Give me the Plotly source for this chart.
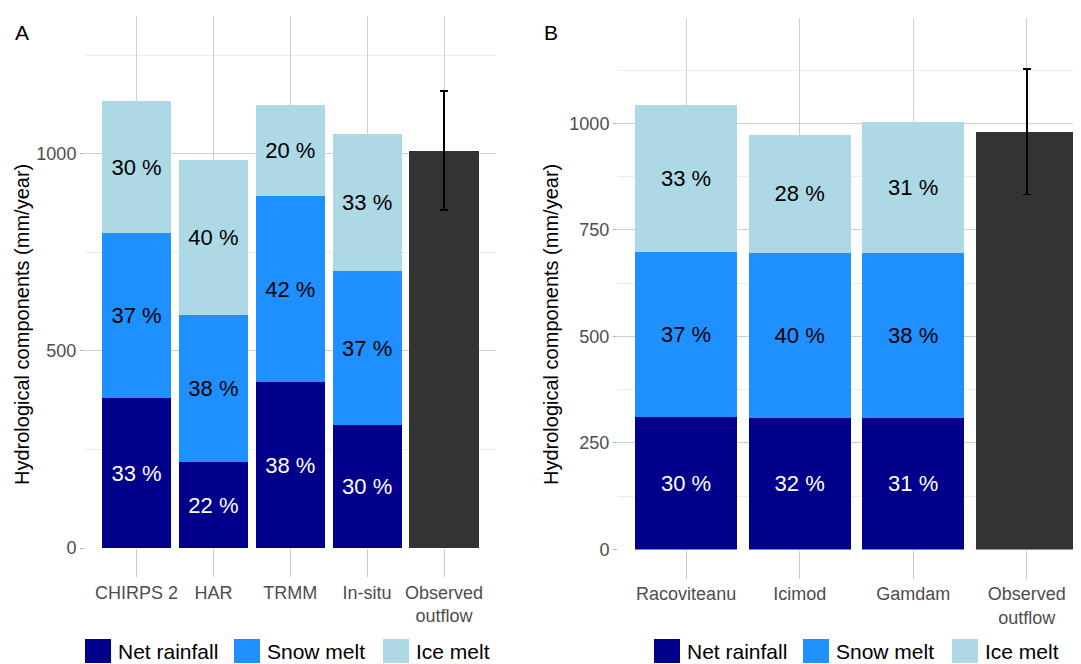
import plotly.graph_objects as go

# ---------------- data ----------------
cats_a = ["CHIRPS 2", "HAR", "TRMM", "In-situ"]
net_a = [380, 218, 421, 312]
snow_a = [419, 373, 472, 391]
ice_a = [335, 394, 231, 348]
pct_net_a = ["33 %", "22 %", "38 %", "30 %"]
pct_snow_a = ["37 %", "38 %", "42 %", "37 %"]
pct_ice_a = ["30 %", "40 %", "20 %", "33 %"]
obs_a = [1008]
obs_err_a = [151]

cats_b = ["Racoviteanu", "Icimod", "Gamdam"]
net_b = [312, 309, 309]
snow_b = [386, 387, 387]
ice_b = [345, 277, 307]
pct_net_b = ["30 %", "32 %", "31 %"]
pct_snow_b = ["37 %", "40 %", "38 %"]
pct_ice_b = ["33 %", "28 %", "31 %"]
obs_b = [980]
obs_err_b = [147]

obs_label = "Observed<br>outflow"
series_names = ["Net rainfall", "Snow melt", "Ice melt"]

# ---------------- style ----------------
FONT = "Liberation Sans, Arial, sans-serif"
C_NET = "#00008B"
C_SNOW = "#1E90FF"
C_ICE = "#ADD8E6"
C_OBS = "#333333"
GRID = "#CFCFCF"
MINOR = "#EBEBEB"
TICKC = "#4D4D4D"

# page body has an 8px default margin; lay out in screen pixels and convert
OFF = 8
W, H = 1081 - OFF, 664 - OFF


def px(x):
    return (x - OFF) / W


def py(y):
    return (H - (y - OFF)) / H


fig = go.Figure()


def add_panel(cats, net, snow, ice, pn, ps, pi, obs, err, xa, ya):
    for vals, txt, col, tcol, name in [
        (net, pn, C_NET, "white", series_names[0]),
        (snow, ps, C_SNOW, "black", series_names[1]),
        (ice, pi, C_ICE, "black", series_names[2]),
    ]:
        fig.add_trace(go.Bar(
            x=cats, y=vals, name=name, marker=dict(color=col, line=dict(width=0)),
            text=txt, textposition="inside", insidetextanchor="middle",
            textangle=0, constraintext="none",
            textfont=dict(family=FONT, size=22, color=tcol),
            width=0.9, xaxis=xa, yaxis=ya, showlegend=False,
        ))
    fig.add_trace(go.Bar(
        x=[obs_label], y=obs, name="Observed outflow",
        marker=dict(color=C_OBS, line=dict(width=0)), width=0.9,
        error_y=dict(type="data", array=err, visible=True, color="black",
                     thickness=1.6, width=4),
        xaxis=xa, yaxis=ya, showlegend=False,
    ))


add_panel(cats_a, net_a, snow_a, ice_a, pct_net_a, pct_snow_a, pct_ice_a,
          obs_a, obs_err_a, "x", "y")
add_panel(cats_b, net_b, snow_b, ice_b, pct_net_b, pct_snow_b, pct_ice_b,
          obs_b, obs_err_b, "x2", "y2")


def xax(domain, rng, cats):
    return dict(
        domain=domain, range=rng, type="category", automargin=False,
        categoryorder="array", categoryarray=cats + [obs_label],
        showgrid=True, gridcolor=GRID, gridwidth=1,
        ticks="outside", ticklen=28, tickcolor="#C8C8C8", tickwidth=1,
        tickfont=dict(family=FONT, size=18, color=TICKC),
        showline=False, zeroline=False, fixedrange=True,
    )


def yax(domain, rng, tickvals, minor_dtick, anchor):
    return dict(
        domain=domain, range=rng, anchor=anchor, automargin=False,
        tickvals=tickvals, ticktext=[str(v) for v in tickvals],
        showgrid=True, gridcolor=GRID, gridwidth=1,
        minor=dict(tick0=0, dtick=minor_dtick, showgrid=True,
                   gridcolor=MINOR, gridwidth=1, ticks=""),
        ticks="outside", ticklen=4, tickcolor="#B0B0B0", tickwidth=1,
        tickfont=dict(family=FONT, size=18, color=TICKC),
        showline=False, zeroline=False, fixedrange=True,
    )


fig.update_layout(
    width=W, height=H,
    margin=dict(l=0, r=0, t=0, b=0, autoexpand=False),
    paper_bgcolor="white", plot_bgcolor="white",
    barmode="stack", bargap=0.1,
    showlegend=False,
    font=dict(family=FONT, color="black"),
    xaxis=xax([px(85), px(495.5)], [-0.67, 4.67], cats_a),
    yaxis=yax([py(548), py(16)], [0, 1350], [0, 500, 1000], 250, "x"),
    xaxis2=xax([px(618), 1.0], [-0.6, 3.478], cats_b),
    yaxis2=yax([py(549.5), py(18)], [0, 1247], [0, 250, 500, 750, 1000], 125, "x2"),
)
fig.layout.xaxis.anchor = "y"
fig.layout.xaxis2.anchor = "y2"

ann = []
# panel letters
for lab, lx in [("A", 13), ("B", 542)]:
    ann.append(dict(text=lab, x=px(lx), y=py(33), xref="paper", yref="paper",
                    xanchor="left", yanchor="middle", showarrow=False,
                    font=dict(family=FONT, size=21, color="black")))
# y titles
for xc, yc in [(22, 325), (551, 325)]:
    ann.append(dict(text="Hydrological components (mm/year)", x=px(xc), y=py(yc),
                    xref="paper", yref="paper", xanchor="center", yanchor="middle",
                    textangle=-90, showarrow=False,
                    font=dict(family=FONT, size=20, color="black")))

# manual legends
shapes = []
leg_y0, leg_y1 = 639, 663
for starts in ([85, 234, 383], [654, 803, 952]):
    for sx, col, name in zip(starts, [C_NET, C_SNOW, C_ICE], series_names):
        shapes.append(dict(type="rect", xref="paper", yref="paper",
                           x0=px(sx), x1=px(sx + 26),
                           y0=py(leg_y1), y1=py(leg_y0),
                           fillcolor=col, line=dict(width=0)))
        ann.append(dict(text=name, x=px(sx + 31), y=py(651),
                        xref="paper", yref="paper", xanchor="left", yanchor="middle",
                        showarrow=False, font=dict(family=FONT, size=21, color="black")))

fig.update_layout(annotations=ann, shapes=shapes)
fig.write_html("out.html")
